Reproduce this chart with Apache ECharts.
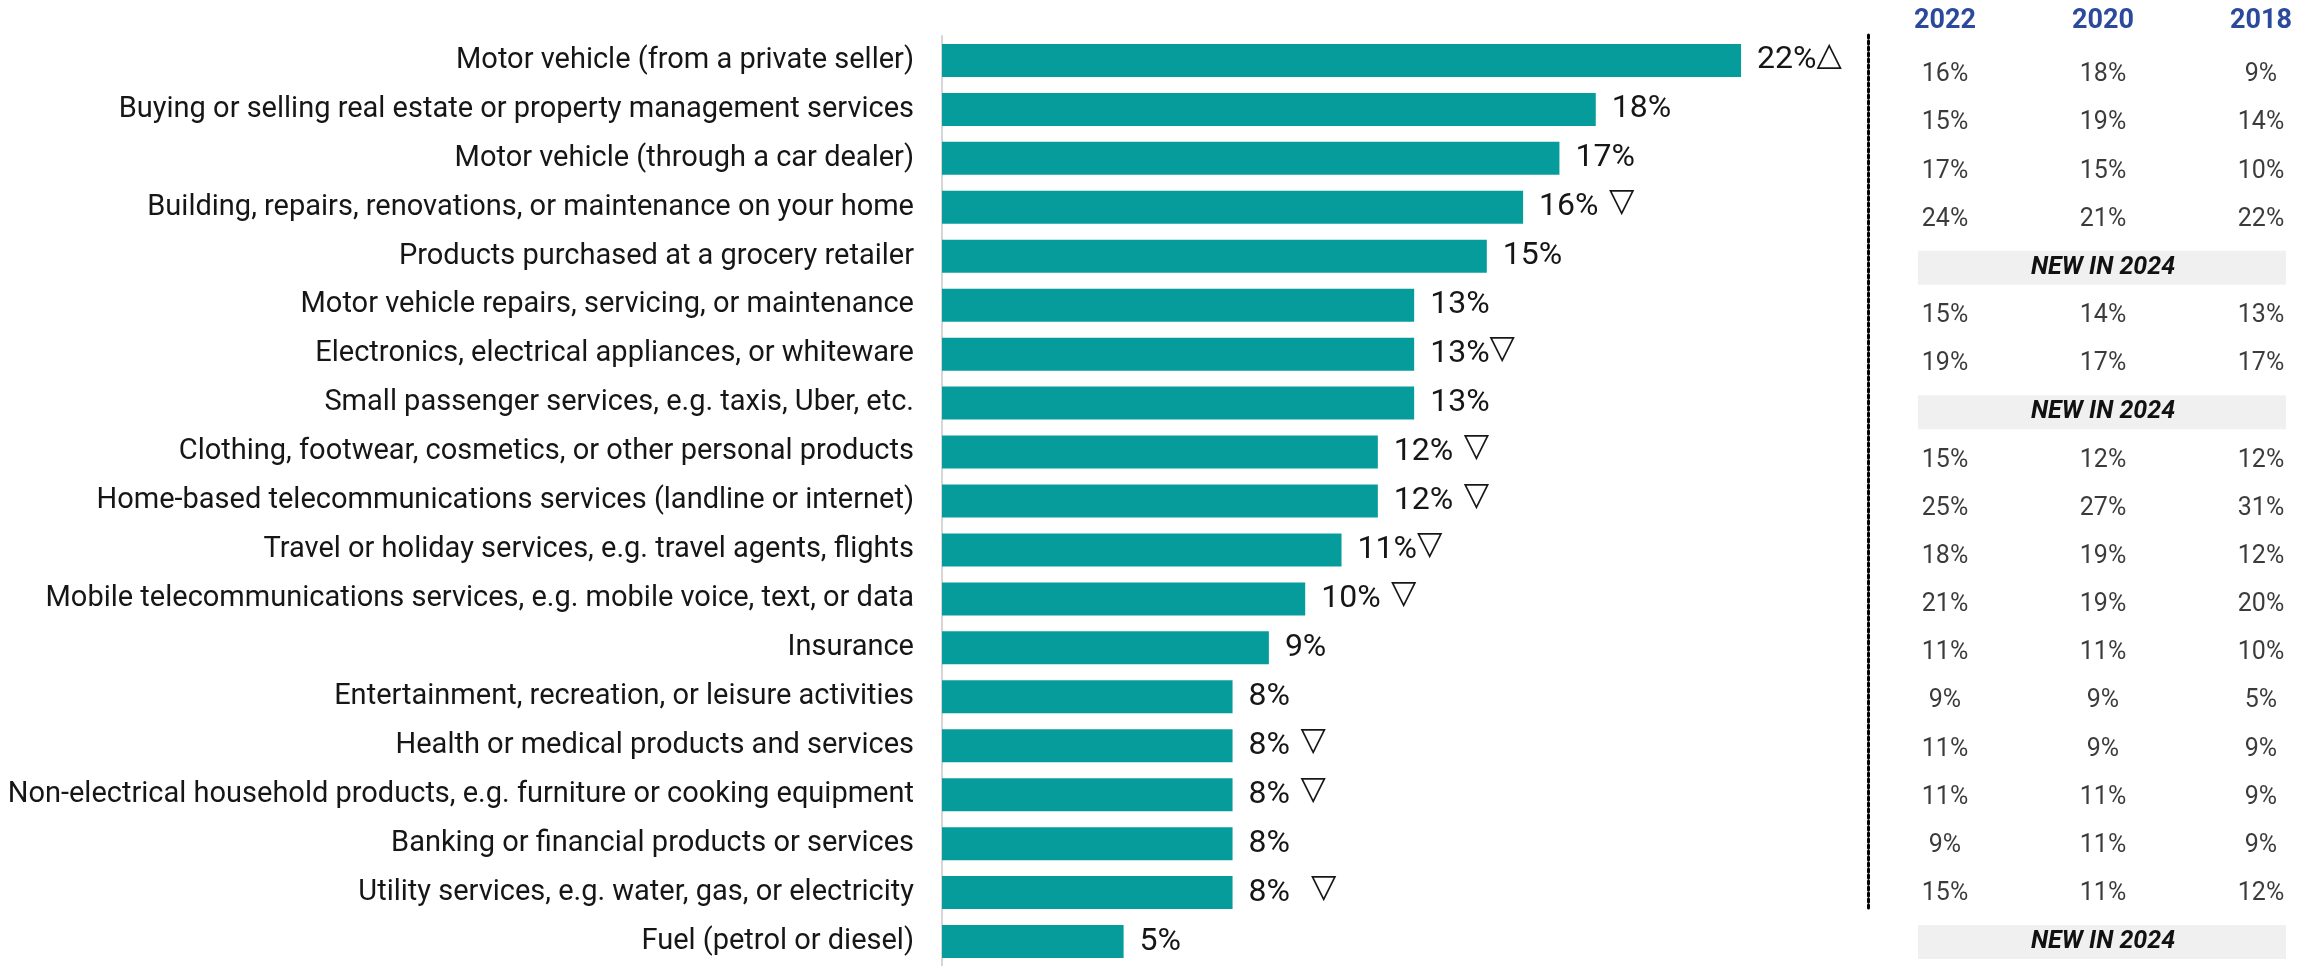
<!DOCTYPE html>
<html>
<head>
<meta charset="utf-8">
<script src="https://cdn.jsdelivr.net/npm/echarts@6/dist/echarts.min.js"></script>
<style>
  html, body { margin: 0; padding: 0; background: #ffffff; }
  #chart { width: 2305px; height: 966px; }
</style>
</head>
<body>
<div id="chart"></div>
<script>
// Purchase categories, 2024 share and change markers
const categories = [
  'Motor vehicle (from a private seller)',
  'Buying or selling real estate or property management services',
  'Motor vehicle (through a car dealer)',
  'Building, repairs, renovations, or maintenance on your home',
  'Products purchased at a grocery retailer',
  'Motor vehicle repairs, servicing, or maintenance',
  'Electronics, electrical appliances, or whiteware',
  'Small passenger services, e.g. taxis, Uber, etc.',
  'Clothing, footwear, cosmetics, or other personal products',
  'Home-based telecommunications services (landline or internet)',
  'Travel or holiday services, e.g. travel agents, flights',
  'Mobile telecommunications services, e.g. mobile voice, text, or data',
  'Insurance',
  'Entertainment, recreation, or leisure activities',
  'Health or medical products and services',
  'Non-electrical household products, e.g. furniture or cooking equipment',
  'Banking or financial products or services',
  'Utility services, e.g. water, gas, or electricity',
  'Fuel (petrol or diesel)'
];
const values2024 = [22, 18, 17, 16, 15, 13, 13, 13, 12, 12, 11, 10, 9, 8, 8, 8, 8, 8, 5];
const changeMarks = ['△', '', '', ' ▽', '', '', '▽', '', ' ▽', ' ▽', '▽', ' ▽', '', '', ' ▽', ' ▽', '', '  ▽', ''];

// Earlier survey waves (null = category new in 2024)
const years = ['2022', '2020', '2018'];
const y2022 = [16, 15, 17, 24, null, 15, 19, null, 15, 25, 18, 21, 11, 9, 11, 11, 9, 15, null];
const y2020 = [18, 19, 15, 21, null, 14, 17, null, 12, 27, 19, 19, 11, 9, 9, 11, 11, 11, null];
const y2018 = [9, 14, 10, 22, null, 13, 17, null, 12, 31, 12, 20, 10, 5, 9, 9, 9, 12, null];
const newLabel = 'NEW IN 2024';

const teal = '#079c9c';
const ink = '#161616';
const base = 'Roboto, "Noto Sans", sans-serif';

const chart = echarts.init(document.getElementById('chart'), null, { renderer: 'canvas' });

const waves = [y2022, y2020, y2018];
const tableSeries = waves.map((arr, c) => ({
  type: 'scatter',
  xAxisIndex: 1,
  yAxisIndex: 1,
  symbolSize: 0,
  silent: true,
  data: arr.map((v, r) => v == null ? null : [years[c], categories[r], v]).filter(d => d),
  label: {
    show: true,
    position: 'inside',
    formatter: p => p.data[2] + '%',
    fontFamily: base,
    fontSize: 25,
    color: '#0a0a0a'
  }
}));

const newRows = y2022.map((v, r) => v == null ? [categories[r]] : null).filter(d => d);

const option = {
  animation: false,
  backgroundColor: '#ffffff',
  grid: [
    { left: 942, top: 36, width: 908, height: 932 },
    { left: 1945, top: 51, width: 316, height: 932 },
    { left: 1868, top: 33, width: 1, height: 875 }
  ],
  xAxis: [
    { type: 'value', gridIndex: 0, min: 0, max: 25, show: false },
    {
      type: 'category', gridIndex: 1, data: years, position: 'top', boundaryGap: false,
      axisLine: { show: false }, axisTick: { show: false }, splitLine: { show: false },
      axisLabel: {
        margin: 16, fontFamily: base, fontWeight: 'bold', fontSize: 27, color: '#2c4a9c'
      }
    },
    { type: 'value', gridIndex: 2, show: false }
  ],
  yAxis: [
    {
      type: 'category', gridIndex: 0, data: categories, inverse: true,
      axisLine: { show: true, lineStyle: { color: '#d6d6d6', width: 2 } },
      axisTick: { show: false },
      axisLabel: { margin: 28, fontFamily: base, fontSize: 29, color: ink }
    },
    {
      type: 'category', gridIndex: 1, data: categories, inverse: true, show: false
    },
    {
      type: 'value', gridIndex: 2, min: 0, max: 1,
      axisLine: { show: true, onZero: false, lineStyle: { color: '#000000', width: 3, type: 'dotted' } },
      axisTick: { show: false }, axisLabel: { show: false }, splitLine: { show: false }
    }
  ],
  series: [
    {
      type: 'bar',
      xAxisIndex: 0,
      yAxisIndex: 0,
      data: values2024,
      barWidth: 33,
      itemStyle: { color: teal },
      silent: true,
      label: {
        show: true,
        position: 'right',
        distance: 16,
        formatter: p => '{v|' + p.value + '%}' + (changeMarks[p.dataIndex] ? '{m|' + changeMarks[p.dataIndex] + '}' : ''),
        rich: {
          v: { fontFamily: base, fontSize: 32, color: ink, lineHeight: 42 },
          m: { fontFamily: '"DejaVu Sans"', fontSize: 33, color: ink, lineHeight: 34, verticalAlign: 'top' }
        }
      }
    },
    {
      type: 'custom',
      xAxisIndex: 1,
      yAxisIndex: 1,
      silent: true,
      clip: false,
      data: newRows,
      encode: { y: 0 },
      renderItem: (params, api) => {
        const row = api.value(0);
        const left = api.coord([years[0], row]);
        const right = api.coord([years[years.length - 1], row]);
        const mid = api.coord([years[1], row]);
        const h = 34;
        return {
          type: 'group',
          children: [
            {
              type: 'rect',
              shape: { x: left[0] - 27, y: left[1] - h / 2, width: right[0] - left[0] + 52, height: h },
              style: { fill: '#f0f0f0' }
            },
            {
              type: 'text',
              style: {
                x: mid[0], y: mid[1], text: newLabel, align: 'center', verticalAlign: 'middle',
                font: 'italic bold 25px ' + base, fill: '#111111'
              }
            }
          ]
        };
      }
    },
    ...tableSeries
  ]
};

chart.setOption(option);
</script>
</body>
</html>
